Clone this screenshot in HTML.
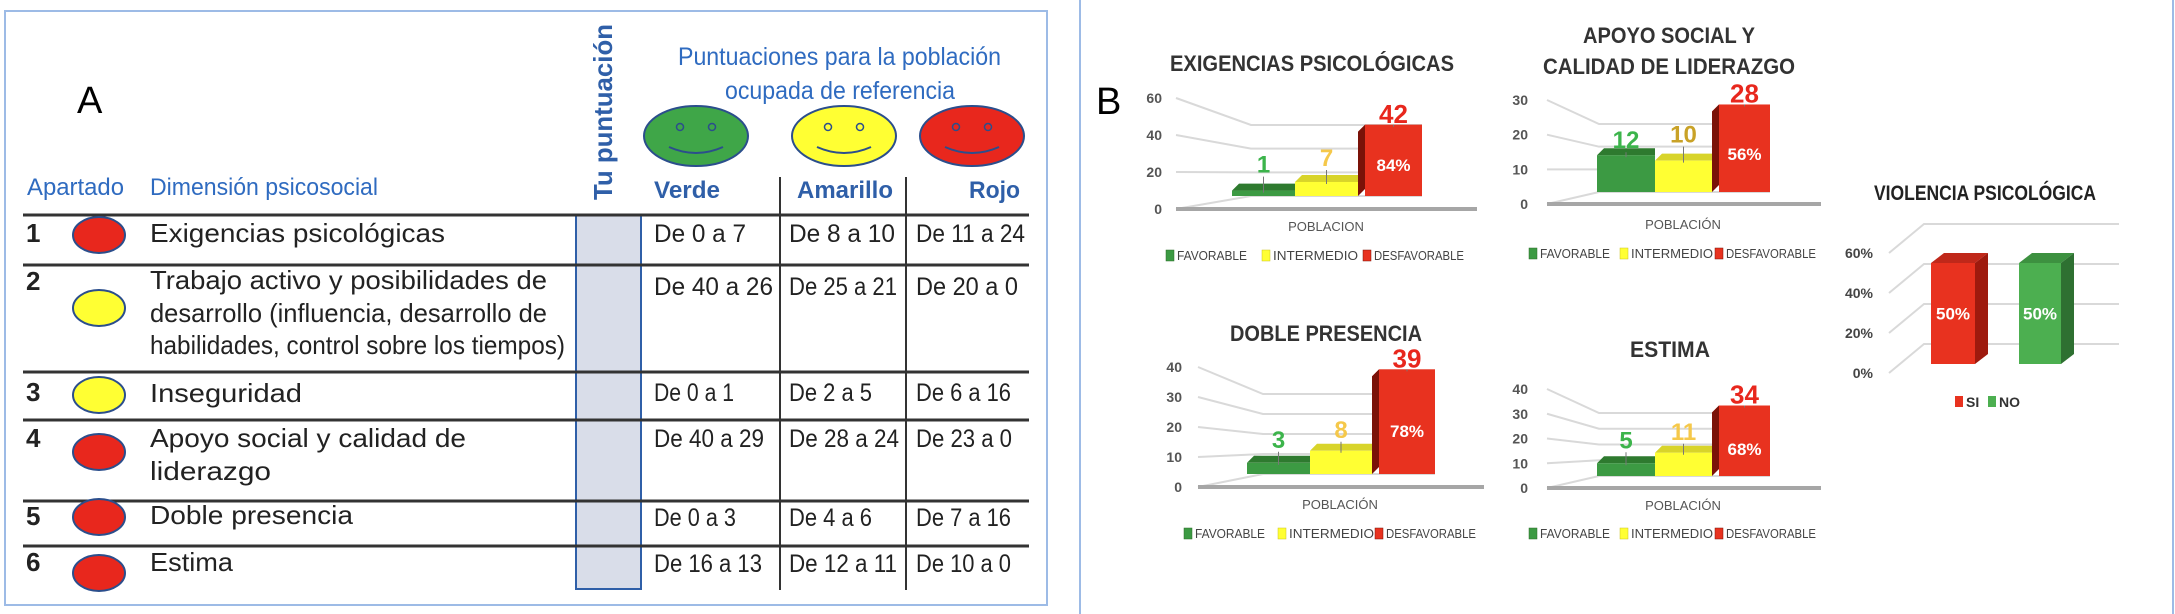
<!DOCTYPE html>
<html><head><meta charset="utf-8"><style>
html,body{margin:0;padding:0;background:#fff;width:2175px;height:614px;overflow:hidden}
svg{display:block}
.t{font-family:"Liberation Sans Narrow","Liberation Sans",sans-serif}
</style></head><body>
<svg id="s" width="2175" height="614" viewBox="0 0 2175 614" xmlns="http://www.w3.org/2000/svg" class="t">
<g>
<rect x="5" y="11" width="1042" height="594" fill="none" stroke="#9dbbe6" stroke-width="2"/>
<line x1="1080" y1="0" x2="1080" y2="614" stroke="#9dbbe6" stroke-width="2"/>
<text x="77" y="113" font-family="Liberation Sans" font-size="38" fill="#000">A</text>
<text transform="translate(612,200) rotate(-90)" font-size="26" font-weight="bold" fill="#2f5fa8" textLength="176" lengthAdjust="spacingAndGlyphs">Tu puntuación</text>
<text x="678" y="65" font-size="25" fill="#2f6bc0" textLength="323" lengthAdjust="spacingAndGlyphs">Puntuaciones para la población</text>
<text x="725" y="99" font-size="25" fill="#2f6bc0" textLength="230" lengthAdjust="spacingAndGlyphs">ocupada de referencia</text>
<g>
<ellipse cx="696" cy="136" rx="52" ry="30" fill="#3fa648" stroke="#2b4e8c" stroke-width="2"/>
<circle cx="680" cy="127" r="3.5" fill="none" stroke="#2b4e8c" stroke-width="1.5"/><circle cx="712" cy="127" r="3.5" fill="none" stroke="#2b4e8c" stroke-width="1.5"/>
<path d="M669,147 Q696,159 723,147" fill="none" stroke="#2b4e8c" stroke-width="2"/></g>
<g>
<ellipse cx="844" cy="136" rx="52" ry="30" fill="#ffff33" stroke="#2b4e8c" stroke-width="2"/>
<circle cx="828" cy="127" r="3.5" fill="none" stroke="#2b4e8c" stroke-width="1.5"/><circle cx="860" cy="127" r="3.5" fill="none" stroke="#2b4e8c" stroke-width="1.5"/>
<path d="M817,147 Q844,159 871,147" fill="none" stroke="#2b4e8c" stroke-width="2"/></g>
<g>
<ellipse cx="972" cy="136" rx="52" ry="30" fill="#e8271d" stroke="#2b4e8c" stroke-width="2"/>
<circle cx="956" cy="127" r="3.5" fill="none" stroke="#2b4e8c" stroke-width="1.5"/><circle cx="988" cy="127" r="3.5" fill="none" stroke="#2b4e8c" stroke-width="1.5"/>
<path d="M945,147 Q972,159 999,147" fill="none" stroke="#2b4e8c" stroke-width="2"/></g>
<text x="27" y="195" font-size="24" fill="#2f6bc0" textLength="97" lengthAdjust="spacingAndGlyphs">Apartado</text>
<text x="150" y="195" font-size="24" fill="#2f6bc0" textLength="228" lengthAdjust="spacingAndGlyphs">Dimensión psicosocial</text>
<text x="654" y="198" font-size="24" font-weight="bold" fill="#2f5fa8" textLength="66" lengthAdjust="spacingAndGlyphs">Verde</text>
<text x="797" y="198" font-size="24" font-weight="bold" fill="#2f5fa8" textLength="96" lengthAdjust="spacingAndGlyphs">Amarillo</text>
<text x="969" y="198" font-size="24" font-weight="bold" fill="#2f5fa8" textLength="51" lengthAdjust="spacingAndGlyphs">Rojo</text>
<rect x="576" y="215" width="65" height="374" fill="#d9dde9" stroke="#2f5fa8" stroke-width="2"/>
<g stroke="#333" stroke-width="2">
<line x1="780" y1="177" x2="780" y2="590"/><line x1="906" y1="177" x2="906" y2="590"/>
<line x1="23" y1="215" x2="1029" y2="215" stroke-width="3"/>
<line x1="23" y1="265" x2="1029" y2="265" stroke-width="3"/>
<line x1="23" y1="372" x2="1029" y2="372" stroke-width="3"/>
<line x1="23" y1="420" x2="1029" y2="420" stroke-width="3"/>
<line x1="23" y1="501" x2="1029" y2="501" stroke-width="3"/>
<line x1="23" y1="546" x2="1029" y2="546" stroke-width="3"/>
</g>
</g>
<g id="rows"></g>
<line x1="2173" y1="0" x2="2173" y2="614" stroke="#9dbbe6" stroke-width="2"/>
<text x="1096" y="114" font-family="Liberation Sans" font-size="38" fill="#000">B</text>
<g id="charts"></g>
</svg>
<script>
// ---- Chart data ----
const legendLabels = ["FAVORABLE","INTERMEDIO","DESFAVORABLE"];
const exigTicks = [0,20,40,60];
const exigValues = [1,7,42];
const exigPct = ["","","84%"];
const apoyoTicks = [0,10,20,30];
const apoyoValues = [12,10,28];
const apoyoPct = ["","","56%"];
const dobleTicks = [0,10,20,30,40];
const dobleValues = [3,8,39];
const doblePct = ["","","78%"];
const estimaTicks = [0,10,20,30,40];
const estimaValues = [5,11,34];
const estimaPct = ["","","68%"];
const violCategories = ["SI","NO"];
const violTicks = [0,20,40,60];
const violTickLabels = ["0%","20%","40%","60%"];
const violValues = [50,50];
const violPct = ["50%","50%"];

const NS="http://www.w3.org/2000/svg";
function mk(parent,tag,attrs,txt){const e=document.createElementNS(NS,tag);for(const k in attrs)e.setAttribute(k,attrs[k]);if(txt!==undefined)e.textContent=txt;parent.appendChild(e);return e;}

const rowsG=document.getElementById('rows');
const rows=[
 {n:"1",ny:242,c:"#e8271d",cy:235,lines:[["Exigencias psicológicas",242,295]],v:[["De 0 a 7",92],["De 8 a 10",106],["De 11 a 24",109]],vy:242},
 {n:"2",ny:290,c:"#ffff33",cy:308,lines:[["Trabajo activo y posibilidades de",289,397],["desarrollo (influencia, desarrollo de",322,397],["habilidades, control sobre los tiempos)",354,415]],v:[["De 40 a 26",119],["De 25 a 21",108],["De 20 a 0",102]],vy:295},
 {n:"3",ny:401,c:"#ffff33",cy:395,lines:[["Inseguridad",402,152]],v:[["De 0 a 1",80],["De 2 a 5",83],["De 6 a 16",95]],vy:401},
 {n:"4",ny:447,c:"#e8271d",cy:452,lines:[["Apoyo social y calidad de",447,316],["liderazgo",480,121]],v:[["De 40 a 29",110],["De 28 a 24",110],["De 23 a 0",96]],vy:447},
 {n:"5",ny:525,c:"#e8271d",cy:517,lines:[["Doble presencia",524,203]],v:[["De 0 a 3",82],["De 4 a 6",83],["De 7 a 16",95]],vy:526},
 {n:"6",ny:571,c:"#e8271d",cy:573,lines:[["Estima",571,83]],v:[["De 16 a 13",108],["De 12 a 11",108],["De 10 a 0",95]],vy:572}
];
const colX=[654,789,916];
rows.forEach((r,i)=>{
 const g=mk(rowsG,'g',{});
 
 
 const num=mk(g,'text',{x:26,y:r.ny,'font-size':26,'font-weight':'bold',fill:'#222'},r.n);
 
 
 const c=mk(g,'ellipse',{cx:99,cy:r.cy,rx:26,ry:18,fill:r.c,stroke:'#2b4e8c','stroke-width':2});
 
 
 r.lines.forEach(l=>{
  const t=mk(g,'text',{x:150,y:l[1],'font-size':26,fill:'#222',textLength:l[2],lengthAdjust:'spacingAndGlyphs'},l[0]);
  
  
 });
 r.v.forEach((v,j)=>{
  const t=mk(g,'text',{x:colX[j],y:r.vy,'font-size':25,fill:'#222',textLength:v[1],lengthAdjust:'spacingAndGlyphs'},v[0]);
  
  
 });
});

const chartsG=document.getElementById('charts');
const barColors=[["#3c9a43","#2e7a2f","#2a6a28"],["#ffff33","#d8d42a","#c9c420"],["#e8321f","#c82818","#7a1208"]];
const labelColors=["#3cb44b","#f5c84a","#e8271d"];
function barChart(cfg,ticks,values,pcts){
 const g=mk(chartsG,'g',{});
 
 
 const yMax=ticks[ticks.length-1];
 const tickY=v=>cfg.axisY-(v-ticks[0])/(yMax-ticks[0])*cfg.axisH;
 const backY=v=>cfg.base-v/yMax*cfg.backH;
 const barY=v=>cfg.base-v/yMax*cfg.barH;
 cfg.title.forEach((t,i)=>{
  const tt=mk(g,'text',{x:cfg.tx,y:cfg.ty[i],'text-anchor':'middle','font-size':22,'font-weight':'bold',fill:'#333',textLength:cfg.tw[i],lengthAdjust:'spacingAndGlyphs'},t);
  
  
 });
 const redRight=cfg.bx[3];
 ticks.forEach(v=>{
  const y=tickY(v);
  const gl=mk(g,'polyline',{points:`${cfg.x0},${y} ${cfg.x0+cfg.dx},${backY(v)} ${redRight},${backY(v)}`,fill:'none',stroke:'#d9d9d9','stroke-width':2});
  
  
  const tl=mk(g,'text',{x:cfg.tickX,y:y+5,'text-anchor':'end','font-size':14,'font-weight':'bold',fill:'#555'},String(v));
  
  
 });
 const ax=mk(g,'line',{x1:cfg.x0,y1:tickY(0),x2:cfg.x1,y2:tickY(0),stroke:'#a6a6a6','stroke-width':4});
 
 
 values.forEach((v,i)=>{
  const x0=cfg.bx[i],x1=cfg.bx[i+1],top=barY(v)-4,d=7;
  const col=barColors[i];
  const bg=mk(g,'g',{});
  
  
  mk(bg,'polygon',{points:`${x0},${top} ${x0+d},${top-d} ${x1},${top-d} ${x1},${top}`,fill:col[1]});
  if(i===2) mk(bg,'polygon',{points:`${x0},${top} ${x0+d},${top-d} ${x0+d},${cfg.base-d} ${x0},${cfg.base}`,fill:col[2]});
  mk(bg,'rect',{x:i===2?x0+d:x0,y:i===2?top-d:top,width:i===2?x1-x0-d:x1-x0,height:i===2?cfg.base-top+d:cfg.base-top,fill:col[0]});
  const cx=i===2?(x0+d+x1)/2:(x0+x1)/2;
  const ly=top-cfg.lab[i];
  mk(bg,'line',{x1:cx,y1:ly+4,x2:cx,y2:top+(i===2?-d:2),stroke:'#777','stroke-width':1});
  const lt=mk(g,'text',{x:cx,y:ly,'text-anchor':'middle','font-size':i===2?26:24,'font-weight':'bold',fill:(cfg.lc&&cfg.lc[i])||labelColors[i],'font-family':'Liberation Sans'},String(v));
  
  
  if(pcts[i]){
   const pt=mk(g,'text',{x:cx,y:cfg.pctY,'text-anchor':'middle','font-size':17,'font-weight':'bold',fill:'#fff','font-family':'Liberation Sans'},pcts[i]);
   
   
  }
 });
 const xl=mk(g,'text',{x:cfg.px,y:cfg.py,'text-anchor':'middle','font-size':13,fill:'#555'},cfg.pl);
 
 
 legendLabels.forEach((l,i)=>{
  const lg=mk(g,'g',{});
  
  
  const lx=cfg.lx[i];
  mk(lg,'rect',{x:lx,y:cfg.ly-10,width:8,height:11,fill:barColors[i][0],stroke:barColors[i][2],'stroke-width':0.5});
  mk(lg,'text',{x:lx+11,y:cfg.ly,'font-size':13,fill:'#444',textLength:cfg.lw[i],lengthAdjust:'spacingAndGlyphs'},l);
 });
}
barChart({name:'chart-exigencias',title:['EXIGENCIAS PSICOLÓGICAS'],tx:1312,ty:[71],tw:[284],
 axisY:209,axisH:111,x0:1176,x1:1477,dx:75,base:196,backH:71,barH:86,tickX:1162,
 bx:[1232,1295,1358,1422],lab:[18,16,9],pctY:171,px:1326,py:231,pl:'POBLACION',
 lx:[1166,1262,1363],lw:[70,85,90],ly:260},exigTicks,exigValues,exigPct);
barChart({name:'chart-apoyo-social',title:['APOYO SOCIAL Y','CALIDAD DE LIDERAZGO'],tx:1669,ty:[43,74],tw:[172,252],
 axisY:204,axisH:104,x0:1547,x1:1821,dx:52,base:192,backH:68,barH:82,tickX:1528,
 bx:[1597,1655,1712,1770],lab:[7,18,9],pctY:160,px:1683,py:229,pl:'POBLACIÓN',
 lx:[1529,1620,1715],lw:[70,82,90],ly:258,lc:['#3cb44b','#c9a227','#e8271d']},apoyoTicks,apoyoValues,apoyoPct);
barChart({name:'chart-doble-presencia',title:['DOBLE PRESENCIA'],tx:1326,ty:[341],tw:[192],
 axisY:487,axisH:120,x0:1198,x1:1484,dx:65,base:474,backH:80,barH:96,tickX:1182,
 bx:[1247,1310,1372,1435],lab:[15,13,9],pctY:437,px:1340,py:509,pl:'POBLACIÓN',
 lx:[1184,1278,1375],lw:[70,85,90],ly:538},dobleTicks,dobleValues,doblePct);
barChart({name:'chart-estima',title:['ESTIMA'],tx:1670,ty:[357],tw:[80],
 axisY:488,axisH:99,x0:1547,x1:1821,dx:52,base:476,backH:63,barH:70,tickX:1528,
 bx:[1597,1655,1712,1770],lab:[15,13,9],pctY:455,px:1683,py:510,pl:'POBLACIÓN',
 lx:[1529,1620,1715],lw:[70,82,90],ly:538},estimaTicks,estimaValues,estimaPct);

(function(){
 const g=mk(chartsG,'g',{});
 
 
 const axisY=373,pxPer=2,base=364,barK=2.02;
 const tickY=v=>axisY-v*pxPer;
 const t=mk(g,'text',{x:1985,y:200,'text-anchor':'middle','font-size':21,'font-weight':'bold',fill:'#222',textLength:222,lengthAdjust:'spacingAndGlyphs'},'VIOLENCIA PSICOLÓGICA');
 
 
 violTicks.forEach((v,i)=>{
  const y=tickY(v);
  const gl=mk(g,'polyline',{points:`1889,${y} 1924,${y-29} 2119,${y-29}`,fill:'none',stroke:'#d9d9d9','stroke-width':2});
  
  
  const tl=mk(g,'text',{x:1873,y:y+5,'text-anchor':'end','font-size':14,'font-weight':'bold',fill:'#444'},violTickLabels[i]);
  
  
 });
 const bx=[[1931,1975],[2019,2061]];
 const cols=[["#e8321f","#c0281a","#9e1a0e"],["#4caf50","#3d9140","#2e7031"]];
 violValues.forEach((v,i)=>{
  const x0=bx[i][0],x1=bx[i][1],top=base-v*barK,d=13;
  const bg=mk(g,'g',{});
  
  
  mk(bg,'polygon',{points:`${x0},${top} ${x0+d},${top-10} ${x1+d},${top-10} ${x1},${top}`,fill:cols[i][1]});
  mk(bg,'polygon',{points:`${x1},${top} ${x1+d},${top-10} ${x1+d},${base-10} ${x1},${base}`,fill:cols[i][2]});
  mk(bg,'rect',{x:x0,y:top,width:x1-x0,height:base-top,fill:cols[i][0]});
  const pt=mk(g,'text',{x:(x0+x1)/2,y:(top+base)/2+6,'text-anchor':'middle','font-size':17,'font-weight':'bold',fill:'#fff','font-family':'Liberation Sans'},violPct[i]);
  
  
 });
 const lxs=[1955,1988];
 violCategories.forEach((c,i)=>{
  const lg=mk(g,'g',{});
  
  
  mk(lg,'rect',{x:lxs[i],y:396,width:8,height:11,fill:cols[i][0]});
  mk(lg,'text',{x:lxs[i]+11,y:407,'font-size':14,'font-weight':'bold',fill:'#333'},c);
 });
})();
</script>
</body></html>
